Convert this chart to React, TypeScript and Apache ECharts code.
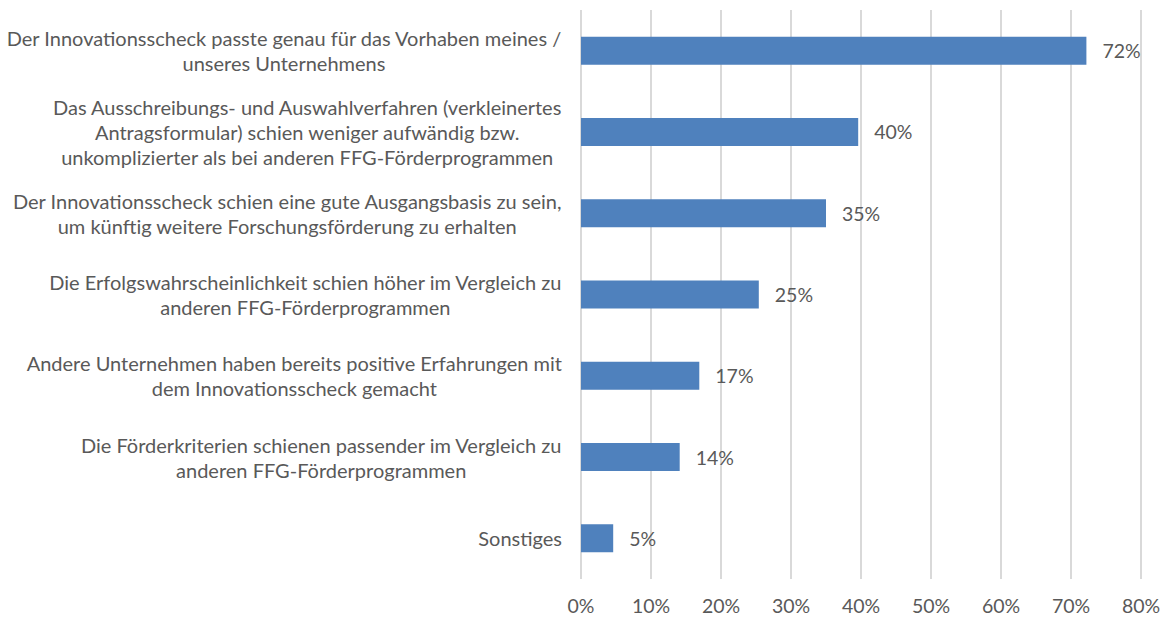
import React, { useEffect, useRef } from "react";
import * as echarts from "echarts";

const categories: string[] = [
  "Der Innovationsscheck passte genau für das Vorhaben meines /\nunseres Unternehmens",
  "Das Ausschreibungs- und Auswahlverfahren (verkleinertes\nAntragsformular) schien weniger aufwändig bzw.\nunkomplizierter als bei anderen FFG-Förderprogrammen",
  "Der Innovationsscheck schien eine gute Ausgangsbasis zu sein,\num künftig weitere Forschungsförderung zu erhalten",
  "Die Erfolgswahrscheinlichkeit schien höher im Vergleich zu\nanderen FFG-Förderprogrammen",
  "Andere Unternehmen haben bereits positive Erfahrungen mit\ndem Innovationsscheck gemacht",
  "Die Förderkriterien schienen passender im Vergleich zu\nanderen FFG-Förderprogrammen",
  "Sonstiges",
];

const values: number[] = [72.2, 39.6, 35.0, 25.4, 16.9, 14.1, 4.6];
const tickLabels: number[] = [0, 10, 20, 30, 40, 50, 60, 70, 80];

const FONT = "Lato, 'Open Sans', sans-serif";
const FS = 19.5;
const FS_CAT = 20;

export default function App() {
  const ref = useRef<HTMLDivElement>(null);
  useEffect(() => {
    document.body.style.margin = "0";
    const chart = echarts.init(ref.current!, null, { renderer: "svg" });
    chart.setOption({
      animation: false,
      textStyle: { fontFamily: FONT },
      grid: { left: 581, right: 25, top: 10, bottom: 38, containLabel: false },
      xAxis: {
        type: "value",
        min: tickLabels[0],
        max: tickLabels[tickLabels.length - 1],
        interval: 10,
        axisLine: { show: false },
        axisTick: { show: false },
        splitLine: { show: true, lineStyle: { color: "#d9d9d9", width: 2 } },
        axisLabel: {
          formatter: (v: number) => `${v}%`,
          color: "#595959",
          fontSize: FS,
          fontFamily: FONT,
          margin: 16,
        },
      },
      yAxis: {
        type: "category",
        data: categories,
        inverse: true,
        axisLine: { show: false },
        axisTick: { show: false },
        axisLabel: {
          margin: 19,
          color: "#595959",
          fontFamily: FONT,
          fontSize: FS_CAT,
          formatter: (v: string) =>
            v
              .split("\n")
              .map((l) => `{c|${l}}`)
              .join("\n"),
          rich: {
            c: {
              align: "center",
              color: "#595959",
              fontFamily: FONT,
              fontSize: FS_CAT,
              lineHeight: 25,
            },
          },
        },
      },
      series: [
        {
          type: "bar",
          data: values,
          barWidth: 28,
          itemStyle: { color: "#4F81BD" },
          label: {
            show: true,
            position: "right",
            distance: 16,
            color: "#595959",
            fontFamily: FONT,
            fontSize: FS,
            formatter: (p: any) => `${Math.round(p.value)}%`,
          },
        },
      ],
    });
    return () => chart.dispose();
  }, []);
  return (
    <div
      ref={ref}
      style={{ position: "absolute", left: 0, top: 0, width: 1166, height: 617, background: "#fff" }}
    />
  );
}
